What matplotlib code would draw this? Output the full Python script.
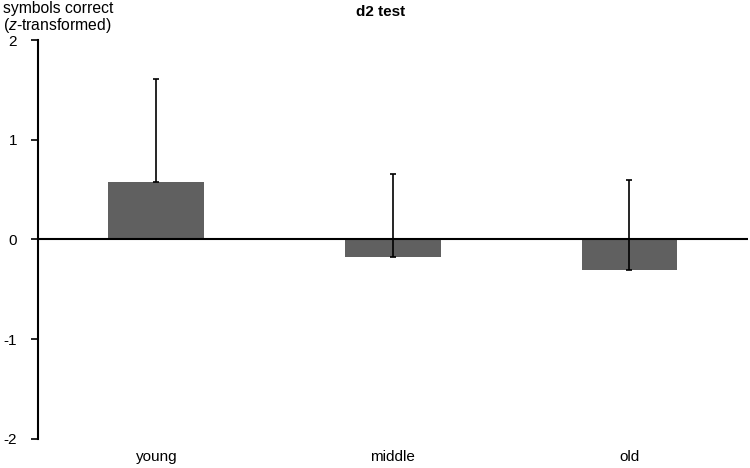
import matplotlib.pyplot as plt

plt.rcParams['font.family'] = ['Liberation Sans', 'DejaVu Sans']
plt.rcParams['axes.unicode_minus'] = False
plt.rcParams['mathtext.fontset'] = 'custom'
plt.rcParams['mathtext.rm'] = 'Liberation Sans'
plt.rcParams['mathtext.it'] = 'Liberation Sans:italic'

groups = ['young', 'middle', 'old']
means = [0.58, -0.18, -0.31]
err_up = [1.03, 0.84, 0.91]

fig = plt.figure(figsize=(7.5, 4.68), dpi=100)
ax = fig.add_axes([0.0507, 0.062, 0.9463, 0.8525])

x = list(range(len(groups)))
ax.bar(x, means, width=0.405, color='#606060', zorder=2)
ax.errorbar(x, means, yerr=[[0] * len(x), err_up], fmt='none', ecolor='black',
            elinewidth=1.2, capsize=2.5, capthick=1.2, zorder=3)

ax.axhline(0, color='black', lw=1.5, zorder=4)

ax.set_xlim(-0.5, 2.5)
ax.set_ylim(-2, 2)
ax.set_yticks([-2, -1, 0, 1, 2])
ax.set_xticks(x)
ax.set_xticklabels(groups)
ax.tick_params(axis='x', length=0, pad=8, labelsize=11)
ax.tick_params(axis='y', length=5, width=1.2, direction='out', labelsize=11, pad=10)

for s in ['top', 'right', 'bottom']:
    ax.spines[s].set_visible(False)
ax.spines['left'].set_linewidth(1.5)

fig.text(0.507, 0.975, 'd2 test', ha='center', va='center', fontsize=11, fontweight='bold')
fig.text(0.077, 0.998, 'symbols correct\n($z$-transformed)', ha='center', va='top',
         fontsize=11.3, linespacing=1.0)

fig.savefig('out.png', dpi=100)
